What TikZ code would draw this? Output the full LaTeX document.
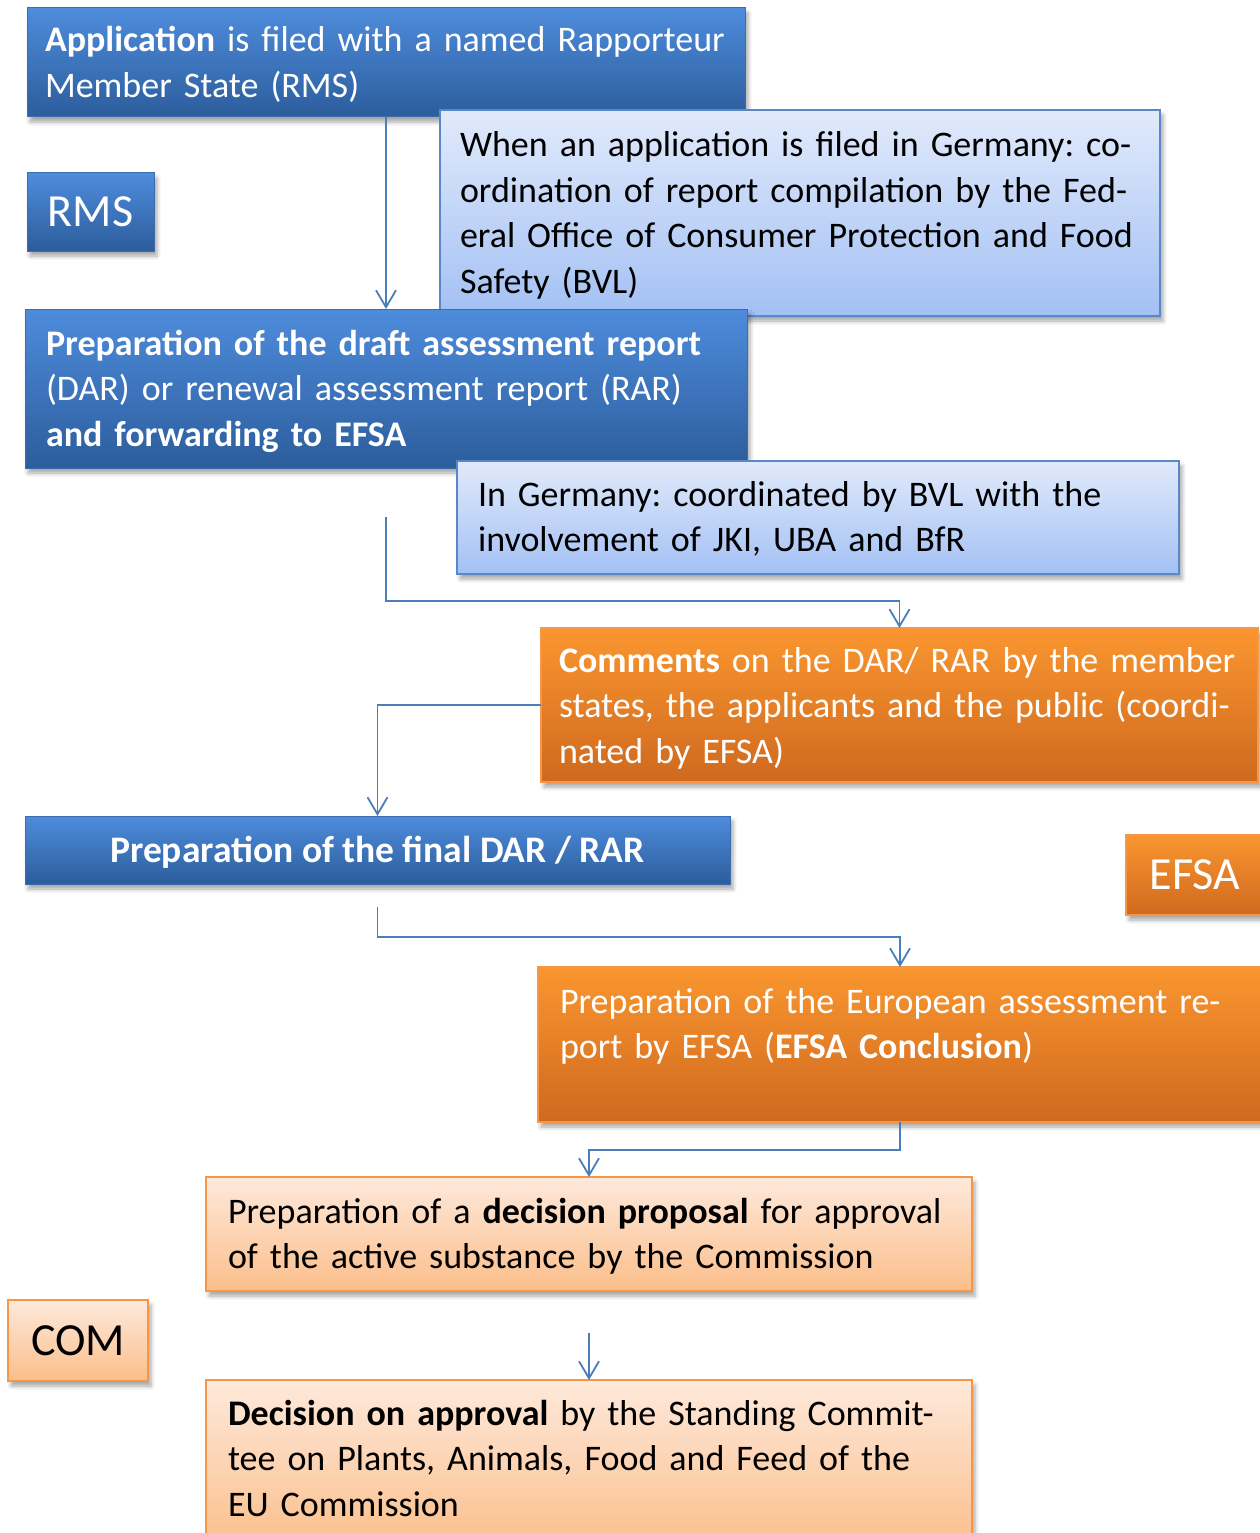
\documentclass[tikz,border=0pt]{standalone}
\usepackage{fontspec}
\setmainfont{Carlito}
\usetikzlibrary{arrows.meta,shadows.blur}
\frenchspacing
\definecolor{dbtop}{RGB}{78,140,220}
\definecolor{dbbot}{RGB}{44,93,156}
\definecolor{dbline}{RGB}{60,108,172}
\definecolor{lbtop}{RGB}{225,234,251}
\definecolor{lbbot}{RGB}{163,192,244}
\definecolor{lbline}{RGB}{90,135,200}
\definecolor{ortop}{RGB}{250,150,47}
\definecolor{orbot}{RGB}{207,105,31}
\definecolor{orline}{RGB}{247,150,70}
\definecolor{pctop}{RGB}{254,233,219}
\definecolor{pcbot}{RGB}{251,190,138}
\definecolor{arrowc}{RGB}{74,126,187}
\tikzset{
  box/.style={rectangle, inner sep=0pt, outer sep=0pt,
    blur shadow={shadow xshift=3pt, shadow yshift=-5pt, shadow blur radius=4pt, shadow opacity=35}},
  darkbox/.style={box, top color=dbtop, bottom color=dbbot, draw=dbline, line width=1pt},
  lightbox/.style={box, top color=lbtop, bottom color=lbbot, draw=lbline, line width=1.5pt},
  orangebox/.style={box, top color=ortop, bottom color=orbot, draw=orline, line width=1.5pt},
  peachbox/.style={box, top color=pctop, bottom color=pcbot, draw=orline, line width=1.5pt},
  txt/.style={anchor=base west, align=left, text width=950pt, inner sep=0pt, outer sep=0pt,
    font=\fontsize{36}{45.5}\selectfont},
  big/.style={font=\fontsize{46}{50}\selectfont},
  conn/.style={draw=arrowc, line width=1.8pt, -{Straight Barb[length=17pt, width=20pt, line width=1.8pt]}}
}
\begin{document}
\begin{tikzpicture}[x=1pt, y=-1pt]
\useasboundingbox (0,0) rectangle (1260,1533);
% boxes
\node[darkbox, minimum width=718pt, minimum height=109pt] (app) at (386,62.5) {};
\node[darkbox, minimum width=127pt, minimum height=78pt, text=white, big] (rms) at (90.5,212) {RMS};
\node[lightbox, minimum width=720pt, minimum height=206pt] (bvl) at (800,213) {};
\node[darkbox, minimum width=722pt, minimum height=159pt] (dar) at (386,388.5) {};
\node[lightbox, minimum width=722pt, minimum height=113pt] (ger) at (818,517.5) {};
\node[orangebox, minimum width=717pt, minimum height=154pt] (com) at (899.5,705) {};
\node[darkbox, minimum width=705pt, minimum height=68pt] (fdar) at (377.5,850) {};
\node[orangebox, minimum width=138pt, minimum height=80pt] (efsa) at (1195,875) {};
\node[orangebox, minimum width=724pt, minimum height=155pt] (euro) at (900,1044.5) {};
\node[peachbox, minimum width=766pt, minimum height=114pt] (prop) at (589,1234) {};
\node[peachbox, minimum width=140pt, minimum height=81pt, big] (comm) at (78,1340.5) {COM};
\node[peachbox, minimum width=766pt, minimum height=170pt] (dec) at (589,1465) {};
% texts
\node[txt, text=white] (appt) at (45,52) {\textbf{Application} is filed with a named Rapporteur\\Member State (RMS)};
\node[txt] (bvlt) at (460,157) {When an application is filed in Germany: co-\\ordination of report compilation by the Fed-\\eral Office of Consumer Protection and Food\\Safety (BVL)};
\node[txt, text=white] (dart) at (46,355) {\textbf{Preparation of the draft assessment report}\\(DAR) or renewal assessment report (RAR)\\\textbf{and forwarding to EFSA}};
\node[txt] (gert) at (478,506) {In Germany: coordinated by BVL with the\\involvement of JKI, UBA and BfR};
\node[txt, text=white] (comt) at (559,672) {\textbf{Comments} on the DAR/ RAR by the member\\states, the applicants and the public (coordi-\\nated by EFSA)};
\node[anchor=base, inner sep=0pt, text=white, font=\fontsize{37.5}{45.5}\selectfont\bfseries] (fdart) at (377.5,862) {Preparation of the final DAR / RAR};
\node[text=white, big, inner sep=0pt] (efsat) at (efsa) {EFSA};
\node[txt, text=white] (eurot) at (560,1013) {Preparation of the European assessment re-\\port by EFSA (\textbf{EFSA Conclusion})};
\node[txt] (propt) at (228,1223) {Preparation of a \textbf{decision proposal} for approval\\of the active substance by the Commission};
\node[txt] (dect) at (228,1425) {\textbf{Decision on approval} by the Standing Commit-\\tee on Plants, Animals, Food and Feed of the\\EU Commission};
% connectors
\coordinate (c1) at ([yshift=-49pt]dar.south);
\coordinate (c2) at ([yshift=-23pt]fdar.south);
\coordinate (c3) at ([yshift=-42pt]prop.south);
\draw[conn] (app) -- (dar);
\draw[conn] (c1) |- ([yshift=27pt]com.north) -- (com.north);
\draw[conn] (com.west) -| (fdar.north);
\draw[conn] (c2) |- ([yshift=30pt]euro.north) -- (euro.north);
\draw[conn] (euro.south) |- ([yshift=27pt]prop.north) -- (prop.north);
\draw[conn] (c3) -- (dec.north);
\end{tikzpicture}
\end{document}
